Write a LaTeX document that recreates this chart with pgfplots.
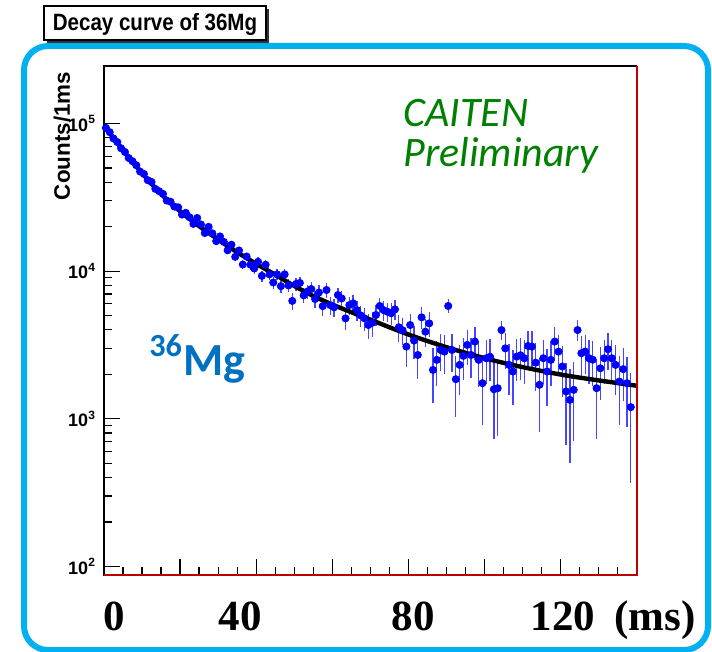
\documentclass[border=0pt]{standalone}
\usepackage{graphicx}
\usepackage{pgfplots}
\pgfplotsset{compat=1.18}
\usepackage{fontspec}
\setmainfont{Liberation Serif}
\setsansfont{Liberation Sans}
\newfontfamily\calibri{Carlito}
\definecolor{frameblue}{RGB}{0,176,240}
\definecolor{mgblue}{RGB}{0,112,192}
\definecolor{cgreen}{RGB}{0,128,0}
\definecolor{ptblue}{RGB}{0,0,255}
\definecolor{errblue}{RGB}{70,70,255}
\definecolor{rootred}{RGB}{190,0,0}
\begin{document}
\begin{tikzpicture}
\useasboundingbox (0pt,0pt) rectangle (356pt,-326pt);
\begin{axis}[
  name=ax,
  at={(52pt,-287.5pt)}, anchor=south west,
  scale only axis, width=266.25pt, height=254.5pt,
  ymode=log,
  xmin=0, xmax=140, ymin=87.5, ymax=2.45e5,
  xtick={0,20,...,140}, xticklabels={},
  minor x tick num=3,
  ytick={100,1000,10000,100000},
  yticklabels={10\textsuperscript{2},10\textsuperscript{3},10\textsuperscript{4},10\textsuperscript{5}},
  yticklabel style={font=\sffamily\bfseries\fontsize{9pt}{10pt}\selectfont, xshift=-0.5pt},
  tick pos=left, tick align=inside,
  major tick length=8pt, minor tick length=4pt,
  every tick/.style={black, line width=0.6pt},
  axis line style={black, line width=0.6pt},
]
\addplot[only marks, mark=*, mark size=1.8pt, color=ptblue,
  error bars/.cd, y dir=both, y explicit,
  error bar style={line width=0.65pt, color=errblue}, error mark=none]
table[x=t, y=n, y error=e] {
t n e
0.5 93330 700
1.5 87300 690
2.5 79070 710
3.5 74820 700
4.5 67920 690
5.5 64120 700
6.5 58340 705
7.5 55460 695
8.5 52120 700
9.5 47210 710
10.5 45500 700
11.5 41300 705
12.5 40180 700
13.5 36060 695
14.5 34750 710
15.5 33340 700
16.5 30060 705
17.5 29510 700
18.5 27350 720
19.5 27040 715
20.5 24150 730
21.5 24830 720
22.5 23170 735
23.5 20890 740
24.5 22910 730
25.5 20700 750
26.5 18110 740
27.5 19950 760
28.5 18030 750
29.5 15960 760
30.5 17180 770
31.5 15780 780
32.5 13840 770
33.5 15100 790
34.5 12500 780
35.5 13800 800
36.5 11090 790
37.5 12560 800
38.5 11040 810
39.5 10420 800
40.5 11560 820
41.5 9290 800
42.5 11040 820
43.5 9506 810
44.5 8375 800
45.5 9506 830
46.5 7907 810
47.5 9506 820
48.5 8000 800
49.5 6281 830
50.5 8185 810
51.5 8318 830
52.5 6855 800
53.5 7278 820
54.5 7568 830
55.5 6471 810
56.5 7161 840
57.5 5794 800
58.5 7447 820
59.5 5888 830
60.5 5689 820
61.5 6887 850
62.5 6531 830
63.5 4786 800
64.5 5888 840
65.5 6053 820
66.5 5445 830
67.5 5012 810
68.5 4786 850
69.5 4315 820
70.5 4467 860
71.5 5047 830
72.5 5808 800
73.5 5445 840
74.5 5309 820
75.5 5188 850
76.5 5508 830
77.5 4169 860
78.5 3981 840
79.5 3083 850
80.5 4315 830
81.5 3388 860
82.5 2704 840
83.5 4864 820
84.5 3890 850
85.5 4426 830
86.5 2143 860
87.5 2506 840
88.5 2924 830
89.5 2851 850
90.5 5808 620
91.5 2924 840
92.5 1854 820
93.5 2317 860
94.5 2667 830
95.5 3162 850
96.5 2704 820
97.5 3334 840
98.5 2506 860
99.5 1742 830
100.5 2570 850
101.5 2630 820
102.5 1585 860
103.5 1611 850
104.5 3990 600
105.5 2999 840
106.5 2317 870
107.5 2089 850
108.5 2636 830
109.5 2692 860
110.5 2570 840
111.5 3112 830
112.5 3083 850
113.5 2399 860
114.5 1698 880
115.5 2570 840
116.5 2089 860
117.5 2506 850
118.5 3334 820
119.5 2851 840
120.5 2259 860
121.5 1531 870
122.5 1343 840
123.5 1570 860
124.5 3990 650
125.5 2780 840
126.5 2851 830
127.5 2570 860
128.5 2512 840
129.5 1611 880
130.5 2198 850
131.5 2570 860
132.5 2958 830
133.5 2570 850
134.5 2317 860
135.5 1786 880
136.5 2168 850
137.5 1742 860
138.5 1199 830
};
\addplot[black, line width=2.2pt, smooth] table {
0 97050
5 65770
10 46130
15 33340
20 25410
25 20180
30 16370
35 13430
40 11220
45 9462
50 7943
55 6792
60 5943
65 5272
70 4699
75 4169
80 3724
85 3365
90 3055
95 2799
100 2576
105 2393
110 2239
115 2109
120 1995
125 1901
130 1820
135 1746
140 1675
};
\end{axis}
\draw[rootred, line width=1pt] (ax.south west) -- (ax.south east) -- (ax.north east);
\begin{scope}[x=0.5pt, y=-0.5pt]
  % blue rounded frame
  \draw[frameblue, line width=3pt, rounded corners=12pt] (24,46) rectangle (708,650);
  % title box with shadow
  \fill[black!80] (47,9) rectangle (269,43);
  \draw[black, fill=white, line width=0.7pt] (44,6) rectangle (266,40);
  \node[font=\sffamily\bfseries\fontsize{11.8pt}{13pt}\selectfont] at (155,24) {\scalebox{0.87}[1]{Decay curve of 36Mg}};
  % y label
  \node[rotate=90, font=\sffamily\bfseries\fontsize{11.2pt}{12pt}\selectfont] at (62,136) {Counts/1ms};
  % x tick labels
  \begin{scope}[every node/.style={anchor=base, font=\rmfamily\bfseries\fontsize{21.5pt}{24pt}\selectfont}]
    \node at (114,630) {0};
    \node at (240,630) {40};
    \node at (413,630) {80};
    \node at (563,630) {120};
    \node at (655,630) {(ms)};
  \end{scope}
  % annotations
  \node[anchor=base west, text=cgreen, font=\calibri\itshape\fontsize{21pt}{24pt}\selectfont, inner sep=0pt] at (403,127) {CAITEN};
  \node[anchor=base west, text=cgreen, font=\calibri\itshape\fontsize{21pt}{24pt}\selectfont, inner sep=0pt] at (403,167) {Preliminary};
  \node[anchor=base west, text=mgblue, font=\calibri\bfseries\fontsize{23pt}{26pt}\selectfont, inner sep=0pt] at (149,375) {\textsuperscript{36}Mg};
\end{scope}
\end{tikzpicture}
\end{document}
